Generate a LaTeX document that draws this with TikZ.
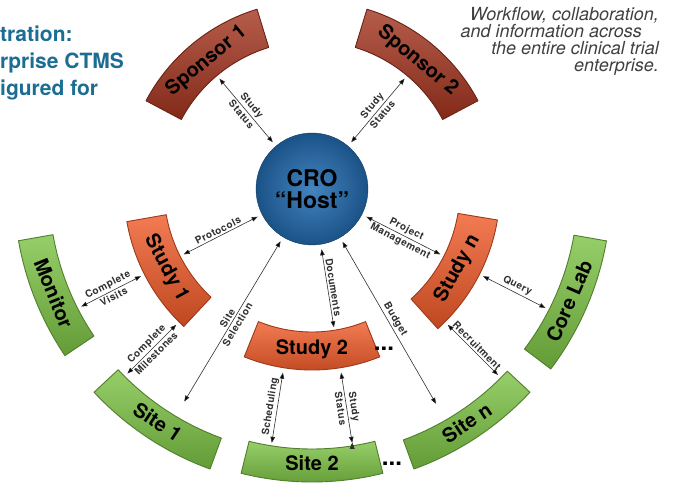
\documentclass[tikz,border=0pt]{standalone}
\usepackage{fontspec}
\setmainfont{TeX Gyre Heros}
\newfontfamily\lblfont[LetterSpace=5]{TeX Gyre Heros}
\usetikzlibrary{arrows.meta}

\definecolor{sponsorred}{HTML}{A3341F}
\definecolor{studyorange}{HTML}{F05A28}
\definecolor{sitegreen}{HTML}{7CC244}
\definecolor{croblue}{HTML}{236EB4}
\definecolor{titleblue}{HTML}{1B6D93}
\definecolor{linkgray}{HTML}{303030}

\begin{document}
\begin{tikzpicture}[x=1pt, y=1pt,
  band/.style={line width=0.9pt, line join=round},
  bandtext/.style={font=\fontsize{20}{20}\selectfont\bfseries, inner sep=0pt},
  link/.style={<->, >={Triangle[length=6pt,width=4.5pt]}, draw=linkgray, line width=0.6pt},
  lbl/.style={sloped, font=\lblfont\fontsize{10}{10}\selectfont\bfseries, text=linkgray, inner sep=1.8pt}]

  \useasboundingbox (-312,-295) rectangle (361,189);

  % title and note
  \foreach \y/\t in {147/tration:, 120/rprise CTMS, 93/igured for}
    \node[anchor=base west, inner sep=0pt, text=titleblue, font=\fontsize{21}{21}\selectfont\bfseries] at (-312,\y) {\t};
  \foreach \x/\y/\t in {347/168.5/{Workflow, collaboration,}, 330/151.5/and information across,
                        347/134.5/the entire clinical trial, 347/117.5/enterprise.}
    \node[anchor=base east, inner sep=0pt, text=black!75, font=\fontsize{18}{17}\selectfont\itshape] at (\x,\y) {\t};

  % bands round the host
  \foreach \a/\b/\ri/\ro/\col/\rot/\nm/\txt in {
      107/152/148/188/sponsorred/39.5/spon1/Sponsor 1,
      28/73/148/188/sponsorred/-39.5/spon2/Sponsor 2,
      190/227/148/188/studyorange/-61.5/study1/Study 1,
      -48/-9.5/148/188/studyorange/61.25/studyn/Study n,
      -112/-68/143/181/studyorange/0/study2/Study 2,
      190/214/263/298/sitegreen/-68/monitor/Monitor,
      223/250/265/298/sitegreen/-33.5/site1/Site 1,
      -104/-76/260/293/sitegreen/0/site2/Site 2,
      -70/-43/267/298/sitegreen/33.5/siten/Site n,
      -37/-10/266/299/sitegreen/66.5/corelab/Core Lab}
  {
    \draw[band, top color=\col!80!white, middle color=\col, bottom color=\col!80!black, draw=\col!65!black]
      (\a:\ri) arc[start angle=\a, end angle=\b, radius=\ri]
      -- (\b:\ro) arc[start angle=\b, end angle=\a, radius=\ro] -- cycle;
    \node[bandtext, rotate=\rot] (\nm) at ({(\a+\b)/2}:{(\ri+\ro)/2-2}) {\txt};
  }

  \node[circle, minimum size=112pt, inner sep=0pt, outer sep=5pt,
        inner color=croblue!85!white, outer color=croblue!75!black, draw=croblue!55!black,
        font=\fontsize{23}{22}\selectfont\bfseries, align=center] (cro) at (0,0) {CRO\\“Host”};

  \node[font=\fontsize{24}{24}\selectfont\bfseries, inner sep=0pt] (dots1) at (72,-160) {...};
  \node[font=\fontsize{24}{24}\selectfont\bfseries, inner sep=0pt] (dots2) at (80,-275) {...};

  % ends of the connectors
  \coordinate (spon1-in) at (130:144);
  \coordinate (spon2-in) at (50:144);
  \coordinate (study1-in) at (207:144);
  \coordinate (study1-out) at (207:192);
  \coordinate (study1-low) at (225:192);
  \coordinate (monitor-in) at (207:259);
  \coordinate (site1-top) at (225:261);
  \coordinate (site1-in) at (239:248);
  \coordinate (study2-in) at (-81:140);
  \coordinate (study2-left) at (261:186);
  \coordinate (study2-right) at (-81:186);
  \coordinate (site2-left) at (261:257);
  \coordinate (site2-right) at (-81:257);
  \coordinate (studyn-in) at (-27:144);
  \coordinate (studyn-out) at (-27:192);
  \coordinate (studyn-low) at (-45:192);
  \coordinate (corelab-in) at (-27:262);
  \coordinate (siten-top) at (-45:263);
  \coordinate (siten-in) at (-60:248);

  \path[link]
    (spon1-in) edge node[lbl, above] {Study} node[lbl, below] {Status} (cro.130)
    (spon2-in) edge node[lbl, above] {Study} node[lbl, below] {Status} (cro.50)
    (study1-in) edge node[lbl, above] {Protocols} (cro.207)
    (studyn-in) edge node[lbl, above] {Project} node[lbl, below] {Management} (cro.-27)
    (study2-in) edge node[lbl, above] {Documents} (cro.-81)
    (site1-in) edge node[lbl, above] {Site} node[lbl, below] {Selection} (cro.239)
    (siten-in) edge node[lbl, above] {Budget} (cro.-60)

    (monitor-in) edge node[lbl, above] {Complete} node[lbl, below] {Visits} (study1-out)
    (site1-top) edge node[lbl, above] {Complete} node[lbl, below] {Milestones} (study1-low)
    (corelab-in) edge node[lbl, above] {Query} (studyn-out)
    (siten-top) edge node[lbl, above] {Recruitment} (studyn-low)
    (site2-left) edge node[lbl, above] {Scheduling} (study2-left)
    (site2-right) edge node[lbl, above] {Study} node[lbl, below] {Status} (study2-right);
\end{tikzpicture}
\end{document}
